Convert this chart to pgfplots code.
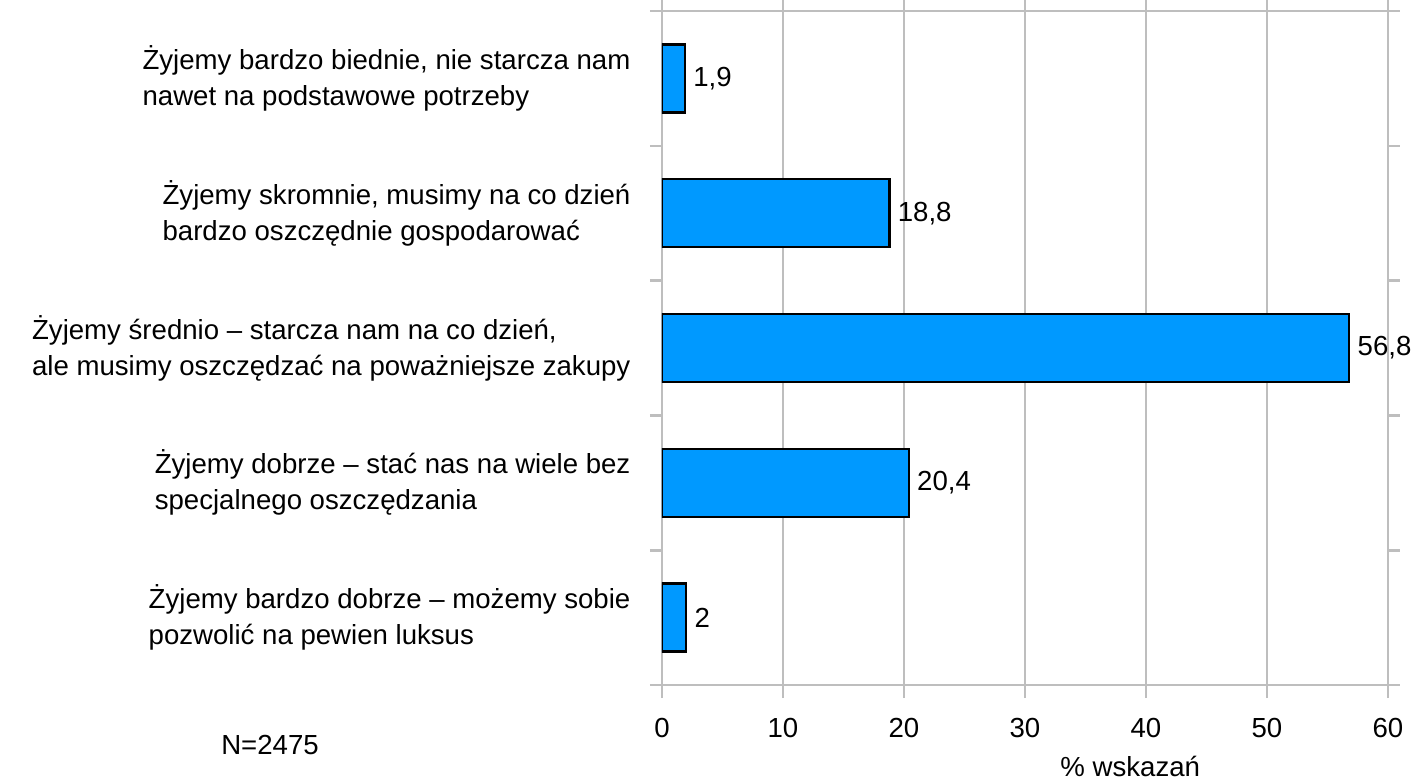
\documentclass[border=0pt]{standalone}
\usepackage{pgfplots}
\pgfplotsset{compat=1.18}
\usepackage{fontspec}
\setmainfont{Liberation Sans}
\definecolor{barblue}{RGB}{0,153,255}
\definecolor{axgray}{RGB}{190,190,190}
\begin{document}
\fontsize{13.8}{18}\selectfont
\begin{tikzpicture}[font=\fontsize{13.8}{18}\selectfont]
\begin{axis}[
  at={(0,0)}, anchor=south west,
  scale only axis, width=363pt, height=337pt,
  xbar, bar width=34pt,
  xmin=0, xmax=60, ymin=-0.5, ymax=4.5, y dir=reverse,
  xtick={0,10,...,60},
  ytick={0,1,2,3,4},
  yticklabels={
    {Żyjemy bardzo biednie, nie starcza nam\\nawet na podstawowe potrzeby},
    {Żyjemy skromnie, musimy na co dzień\\bardzo oszczędnie gospodarować},
    {Żyjemy średnio – starcza nam na co dzień,\\ale musimy oszczędzać na poważniejsze zakupy},
    {Żyjemy dobrze – stać nas na wiele bez\\specjalnego oszczędzania},
    {Żyjemy bardzo dobrze – możemy sobie\\pozwolić na pewien luksus}},
  minor ytick={-0.5,0.5,...,4.5},
  xmajorgrids,
  major grid style={axgray, line width=1.3pt},
  axis line style={axgray, line width=1.3pt},
  tick style={axgray, line width=1.3pt},
  major y tick style={draw=none},
  tick align=outside,
  major tick length=6.5pt, minor tick length=6pt,
  yticklabel style={align=left, text=black, xshift=-4.5pt},
  xticklabel style={text=black, yshift=-5.5pt},
  /pgf/number format/.cd, use comma, assume math mode=true, /pgfplots/.cd,
  xlabel={\% wskazań},
  xlabel style={at={(rel axis cs:0.645,0)}, anchor=base, yshift=-45.5pt},
  nodes near coords,
  every node near coord/.append style={black, anchor=west, xshift=-1pt},
]
\addplot[draw=black, line width=1.2pt, fill=barblue]
  coordinates {(1.9,0) (18.8,1) (56.8,2) (20.4,3) (2,4)};
\end{axis}
\node at (-196pt,-30pt) {N=2475};
\pgfresetboundingbox
\path[use as bounding box] (-331pt,-48pt) rectangle (376pt,342.5pt);
\end{tikzpicture}
\end{document}
